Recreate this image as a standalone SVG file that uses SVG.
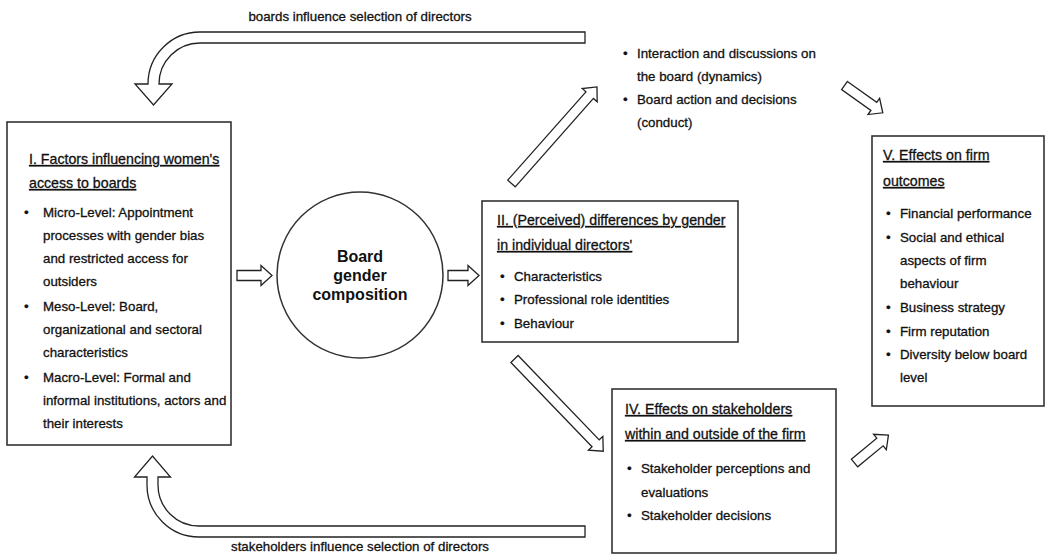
<svg xmlns="http://www.w3.org/2000/svg" width="1050" height="556" viewBox="0 0 1050 556">
  <style>
    .box { fill: #ffffff; stroke: #333333; stroke-width: 1.6; }
    .arrow { fill: #ffffff; stroke: #222222; stroke-width: 1.3; stroke-linejoin: miter; }
    text { font-family: "Liberation Sans", Arial, sans-serif; font-size: 13.3px; fill: #111111; stroke: #111111; stroke-width: 0.3; }
    .head { font-size: 14.2px; text-decoration: underline; }
    .title { font-size: 16px; font-weight: bold; text-anchor: middle; stroke-width: 0; }
    .label { text-anchor: middle; }
  </style>

  <rect width="1050" height="556" fill="#ffffff"/>

  <!-- connectors: hollow block arrows -->
  <g id="connectors">
    <!-- feedback loop over the top -->
    <path class="arrow" d="M585,32 H200 A52,52 0 0 0 148,84 L135,84 L153.5,105 L172,84 L159,84 A41,41 0 0 1 200,43 H585 Z"/>
    <!-- feedback loop along the bottom -->
    <path class="arrow" d="M585,537 H199 A52,52 0 0 1 147,485 V477 L134.5,477 L152.5,456 L170.5,477 H158 V485 A41,41 0 0 0 199,526 H585 Z"/>
    <!-- factors -> composition -->
    <polygon class="arrow" transform="translate(237,275.5)" points="0,-5 24,-5 24,-10 35,0 24,10 24,5 0,5"/>
    <!-- composition -> differences -->
    <polygon class="arrow" transform="translate(448,275.5)" points="0,-5 20,-5 20,-10 31,0 20,10 20,5 0,5"/>
    <!-- differences -> dynamics / conduct -->
    <polygon class="arrow" transform="translate(511.5,183.5) rotate(-48.5)" points="0,-5 118,-5 118,-10 129,0 118,10 118,5 0,5"/>
    <!-- dynamics / conduct -> firm outcomes -->
    <polygon class="arrow" transform="translate(844.5,85.5) rotate(35.5)" points="0,-5 36,-5 36,-10 47,0 36,10 36,5 0,5"/>
    <!-- differences -> stakeholders -->
    <polygon class="arrow" transform="translate(514.5,359) rotate(46.1)" points="0,-5 117,-5 117,-10 128,0 117,10 117,5 0,5"/>
    <!-- stakeholders -> firm outcomes -->
    <polygon class="arrow" transform="translate(854.5,463) rotate(-39.5)" points="0,-5 33,-5 33,-10 44,0 33,10 33,5 0,5"/>
  </g>

  <g id="label-boards">
    <text class="label" x="360" y="21">boards influence selection of directors</text>
  </g>
  <g id="label-stakeholders">
    <text class="label" x="360" y="551">stakeholders influence selection of directors</text>
  </g>

  <!-- I. factors -->
  <g id="node-factors">
    <rect class="box" x="7" y="122" width="224" height="323"/>
    <text class="head" x="29" y="164">I. Factors influencing women's</text>
    <text class="head" x="29" y="188">access to boards</text>
    <text x="24" y="217">•</text>
    <text x="43" y="217">Micro-Level: Appointment</text>
    <text x="43" y="240">processes with gender bias</text>
    <text x="43" y="263">and restricted access for</text>
    <text x="43" y="286">outsiders</text>
    <text x="24" y="311">•</text>
    <text x="43" y="311">Meso-Level: Board,</text>
    <text x="43" y="334">organizational and sectoral</text>
    <text x="43" y="357">characteristics</text>
    <text x="24" y="382">•</text>
    <text x="43" y="382">Macro-Level: Formal and</text>
    <text x="43" y="405">informal institutions, actors and</text>
    <text x="43" y="428">their interests</text>
  </g>

  <!-- central circle -->
  <g id="node-composition">
    <circle cx="360" cy="275" r="83" fill="#ffffff" stroke="#333333" stroke-width="1.5"/>
    <text class="title" x="360" y="262">Board</text>
    <text class="title" x="360" y="281">gender</text>
    <text class="title" x="360" y="300">composition</text>
  </g>

  <!-- II. differences -->
  <g id="node-differences">
    <rect class="box" x="482" y="201" width="256" height="141"/>
    <text class="head" x="497" y="225">II. (Perceived) differences by gender</text>
    <text class="head" x="497" y="250">in individual directors'</text>
    <text x="500" y="281">•</text>
    <text x="514" y="281">Characteristics</text>
    <text x="500" y="304">•</text>
    <text x="514" y="304">Professional role identities</text>
    <text x="500" y="328">•</text>
    <text x="514" y="328">Behaviour</text>
  </g>

  <!-- III. board dynamics (unboxed) -->
  <g id="node-dynamics">
    <text x="623" y="58">•</text>
    <text x="637" y="58">Interaction and discussions on</text>
    <text x="637" y="81">the board (dynamics)</text>
    <text x="623" y="104">•</text>
    <text x="637" y="104">Board action and decisions</text>
    <text x="637" y="127">(conduct)</text>
  </g>

  <!-- IV. stakeholders -->
  <g id="node-stakeholders">
    <rect class="box" x="612" y="389" width="224" height="164"/>
    <text class="head" x="625" y="414">IV. Effects on stakeholders</text>
    <text class="head" x="625" y="439">within and outside of the firm</text>
    <text x="627" y="473">•</text>
    <text x="641" y="473">Stakeholder perceptions and</text>
    <text x="641" y="497">evaluations</text>
    <text x="627" y="520">•</text>
    <text x="641" y="520">Stakeholder decisions</text>
  </g>

  <!-- V. firm outcomes -->
  <g id="node-outcomes">
    <rect class="box" x="872" y="136" width="172" height="270"/>
    <text class="head" x="883" y="160">V. Effects on firm</text>
    <text class="head" x="883" y="186">outcomes</text>
    <text x="886" y="218">•</text>
    <text x="900" y="218">Financial performance</text>
    <text x="886" y="242">•</text>
    <text x="900" y="242">Social and ethical</text>
    <text x="900" y="265">aspects of firm</text>
    <text x="900" y="288">behaviour</text>
    <text x="886" y="312">•</text>
    <text x="900" y="312">Business strategy</text>
    <text x="886" y="336">•</text>
    <text x="900" y="336">Firm reputation</text>
    <text x="886" y="359">•</text>
    <text x="900" y="359">Diversity below board</text>
    <text x="900" y="382">level</text>
  </g>
</svg>
